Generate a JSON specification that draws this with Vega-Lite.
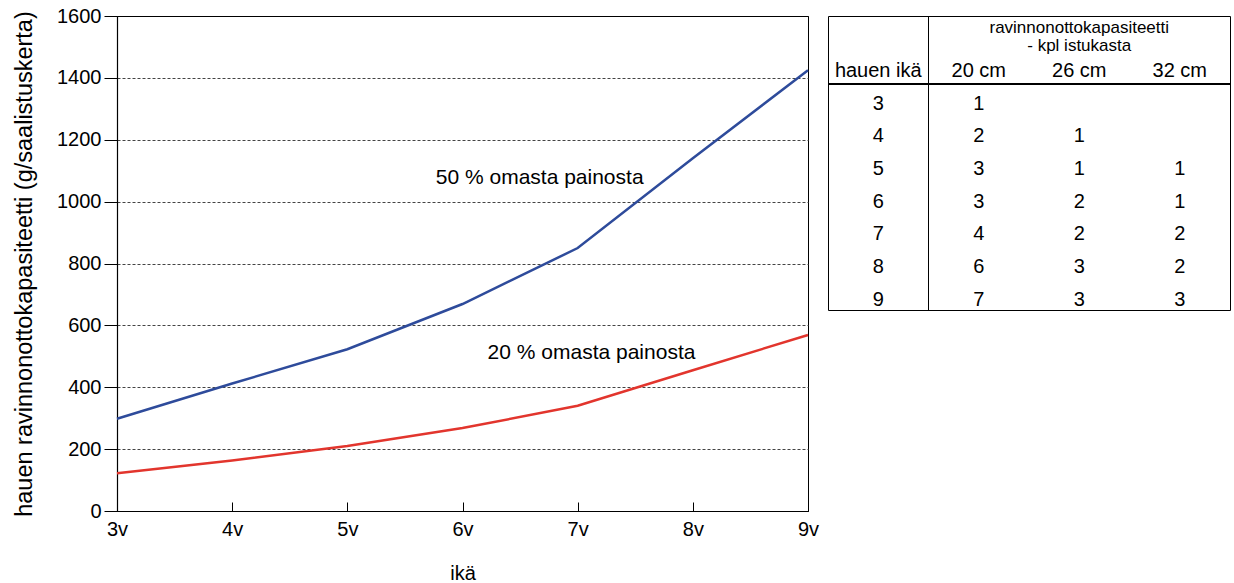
{
  "$schema": "https://vega.github.io/schema/vega-lite/v6.json",
  "background": "white",
  "padding": {"left": 12, "top": 5, "right": 1, "bottom": 5},
  "config": {
    "font": "Liberation Sans",
    "view": {"stroke": "black", "strokeWidth": 1},
    "axis": {
      "labelFont": "Liberation Sans",
      "titleFont": "Liberation Sans",
      "labelFontSize": 20,
      "titleFontSize": 20,
      "titleFontWeight": "normal",
      "labelColor": "black",
      "titleColor": "black",
      "domainColor": "black",
      "tickColor": "black",
      "domainWidth": 1.2,
      "tickWidth": 1
    },
    "text": {"font": "Liberation Sans", "color": "black"}
  },
  "datasets": {
    "kayrat": [
      {"ika": 3, "g": 298, "sarja": "50 % omasta painosta"},
      {"ika": 4, "g": 412, "sarja": "50 % omasta painosta"},
      {"ika": 5, "g": 523, "sarja": "50 % omasta painosta"},
      {"ika": 6, "g": 669, "sarja": "50 % omasta painosta"},
      {"ika": 7, "g": 850, "sarja": "50 % omasta painosta"},
      {"ika": 8, "g": 1140, "sarja": "50 % omasta painosta"},
      {"ika": 9, "g": 1425, "sarja": "50 % omasta painosta"},
      {"ika": 3, "g": 122, "sarja": "20 % omasta painosta"},
      {"ika": 4, "g": 163, "sarja": "20 % omasta painosta"},
      {"ika": 5, "g": 210, "sarja": "20 % omasta painosta"},
      {"ika": 6, "g": 268, "sarja": "20 % omasta painosta"},
      {"ika": 7, "g": 340, "sarja": "20 % omasta painosta"},
      {"ika": 8, "g": 455, "sarja": "20 % omasta painosta"},
      {"ika": 9, "g": 569, "sarja": "20 % omasta painosta"}
    ],
    "merkinnat": [
      {"ika": 6.67, "g": 1076, "teksti": "50 % omasta painosta"},
      {"ika": 7.12, "g": 511, "teksti": "20 % omasta painosta"}
    ],
    "taulukko": [
      {"taso": "otsikko", "rivi": "hauen ikä", "sarake": "26 cm", "arvo": "ravinnonottokapasiteetti\n- kpl istukasta"},
      {"taso": "solu", "rivi": "hauen ikä", "sarake": "hauen ikä", "arvo": "hauen ikä"},
      {"taso": "solu", "rivi": "hauen ikä", "sarake": "20 cm", "arvo": "20 cm"},
      {"taso": "solu", "rivi": "hauen ikä", "sarake": "26 cm", "arvo": "26 cm"},
      {"taso": "solu", "rivi": "hauen ikä", "sarake": "32 cm", "arvo": "32 cm"},
      {"taso": "solu", "rivi": "3", "sarake": "hauen ikä", "arvo": "3"},
      {"taso": "solu", "rivi": "3", "sarake": "20 cm", "arvo": "1"},
      {"taso": "solu", "rivi": "4", "sarake": "hauen ikä", "arvo": "4"},
      {"taso": "solu", "rivi": "4", "sarake": "20 cm", "arvo": "2"},
      {"taso": "solu", "rivi": "4", "sarake": "26 cm", "arvo": "1"},
      {"taso": "solu", "rivi": "5", "sarake": "hauen ikä", "arvo": "5"},
      {"taso": "solu", "rivi": "5", "sarake": "20 cm", "arvo": "3"},
      {"taso": "solu", "rivi": "5", "sarake": "26 cm", "arvo": "1"},
      {"taso": "solu", "rivi": "5", "sarake": "32 cm", "arvo": "1"},
      {"taso": "solu", "rivi": "6", "sarake": "hauen ikä", "arvo": "6"},
      {"taso": "solu", "rivi": "6", "sarake": "20 cm", "arvo": "3"},
      {"taso": "solu", "rivi": "6", "sarake": "26 cm", "arvo": "2"},
      {"taso": "solu", "rivi": "6", "sarake": "32 cm", "arvo": "1"},
      {"taso": "solu", "rivi": "7", "sarake": "hauen ikä", "arvo": "7"},
      {"taso": "solu", "rivi": "7", "sarake": "20 cm", "arvo": "4"},
      {"taso": "solu", "rivi": "7", "sarake": "26 cm", "arvo": "2"},
      {"taso": "solu", "rivi": "7", "sarake": "32 cm", "arvo": "2"},
      {"taso": "solu", "rivi": "8", "sarake": "hauen ikä", "arvo": "8"},
      {"taso": "solu", "rivi": "8", "sarake": "20 cm", "arvo": "6"},
      {"taso": "solu", "rivi": "8", "sarake": "26 cm", "arvo": "3"},
      {"taso": "solu", "rivi": "8", "sarake": "32 cm", "arvo": "2"},
      {"taso": "solu", "rivi": "9", "sarake": "hauen ikä", "arvo": "9"},
      {"taso": "solu", "rivi": "9", "sarake": "20 cm", "arvo": "7"},
      {"taso": "solu", "rivi": "9", "sarake": "26 cm", "arvo": "3"},
      {"taso": "solu", "rivi": "9", "sarake": "32 cm", "arvo": "3"}
    ]
  },
  "bounds": "flush",
  "spacing": 20,
  "hconcat": [
    {
      "width": 691,
      "height": 495,
      "layer": [
        {
          "data": {"name": "kayrat"},
          "mark": {"type": "line", "strokeWidth": 2.5},
          "encoding": {
            "x": {
              "field": "ika", "type": "quantitative",
              "scale": {"domain": [3, 9], "nice": false, "zero": false},
              "axis": {
                "values": [3, 4, 5, 6, 7, 8, 9],
                "labelExpr": "datum.value + 'v'",
                "labelFlush": false,
                "title": "ikä",
                "grid": false,
                "tickSize": -9,
                "labelPadding": 17,
                "titlePadding": 24
              }
            },
            "y": {
              "field": "g", "type": "quantitative",
              "scale": {"domain": [0, 1600], "nice": false},
              "axis": {
                "values": [0, 200, 400, 600, 800, 1000, 1200, 1400, 1600],
                "format": "d",
                "labelFlush": false,
                "title": "hauen ravinnonottokapasiteetti (g/saalistuskerta)",
                "titleFontSize": 23.5,
                "tickSize": 13,
                "labelPadding": 3,
                "titlePadding": 20,
                "grid": true,
                "gridColor": {"condition": {"test": "datum.value === 1600 || datum.value === 0", "value": "black"}, "value": "#444444"},
                "gridDash": {"condition": {"test": "datum.value === 1600 || datum.value === 0", "value": []}, "value": [3, 2]},
                "gridWidth": 1
              }
            },
            "color": {
              "field": "sarja", "type": "nominal",
              "scale": {"domain": ["50 % omasta painosta", "20 % omasta painosta"], "range": ["#2e4b9b", "#e2352d"]},
              "legend": null
            }
          }
        },
        {
          "data": {"name": "merkinnat"},
          "mark": {"type": "text", "fontSize": 21, "align": "center", "baseline": "middle"},
          "encoding": {
            "x": {"field": "ika", "type": "quantitative"},
            "y": {"field": "g", "type": "quantitative"},
            "text": {"field": "teksti"}
          }
        }
      ]
    },
    {
      "width": 402,
      "height": 294,
      "data": {"name": "taulukko"},
      "encoding": {
        "x": {
          "field": "sarake", "type": "nominal",
          "scale": {"type": "band", "domain": ["hauen ikä", "20 cm", "26 cm", "32 cm"], "paddingInner": 0, "paddingOuter": 0},
          "axis": null
        },
        "y": {
          "field": "rivi", "type": "ordinal",
          "scale": {"type": "point", "domain": ["hauen ikä", "3", "4", "5", "6", "7", "8", "9"], "padding": 1, "align": 0.84},
          "axis": null
        }
      },
      "layer": [
        {
          "transform": [{"filter": "datum.taso === 'solu'"}],
          "mark": {"type": "text", "fontSize": 20, "align": "center", "baseline": "middle"},
          "encoding": {"text": {"field": "arvo"}}
        },
        {
          "transform": [{"filter": "datum.taso === 'otsikko'"}],
          "mark": {"type": "text", "fontSize": 17, "lineHeight": 18, "lineBreak": "\n", "align": "center", "baseline": "middle", "dy": -43},
          "encoding": {"text": {"field": "arvo"}}
        },
        {
          "mark": {"type": "rule", "color": "black", "strokeWidth": 1},
          "encoding": {"x": {"datum": "20 cm", "bandPosition": 0}, "y": null}
        },
        {
          "mark": {"type": "rule", "color": "black", "strokeWidth": 1, "yOffset": 13},
          "encoding": {"y": {"datum": "hauen ikä"}, "x": null}
        }
      ]
    }
  ]
}
